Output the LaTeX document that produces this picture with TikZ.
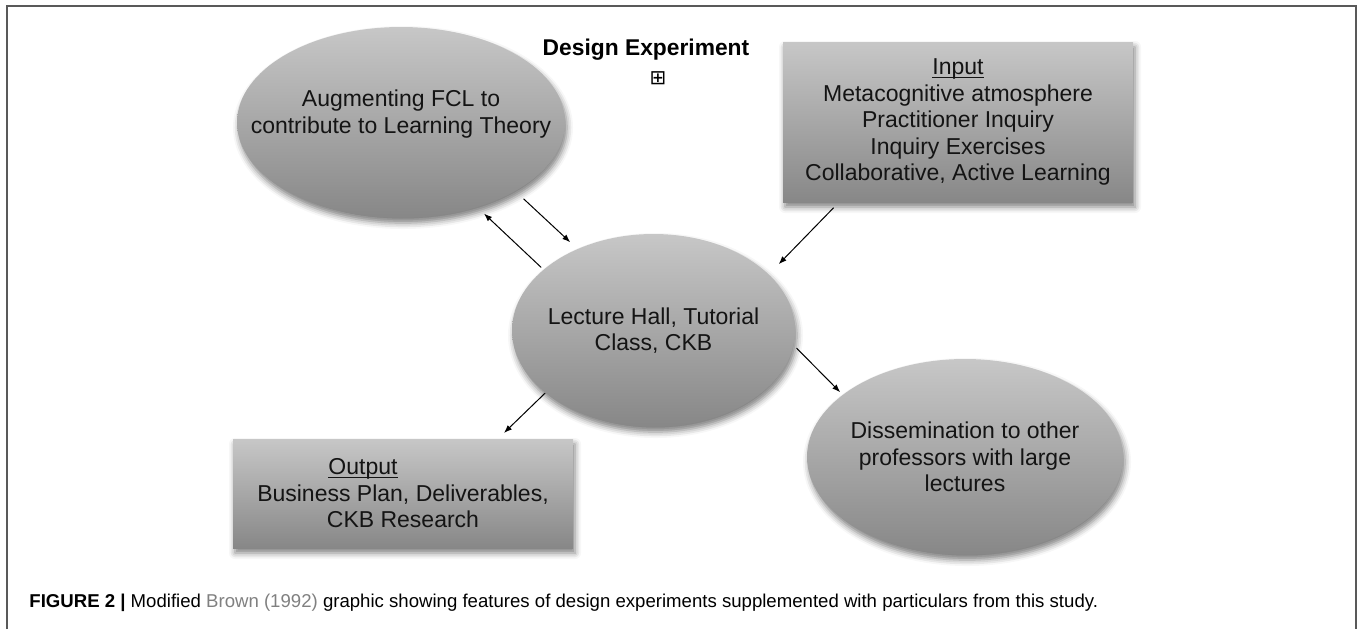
\documentclass[tikz,border=0pt]{standalone}
\usepackage{fontspec}
\setmainfont{Liberation Sans}
\newfontfamily\symbolfont{DejaVu Sans}
\usetikzlibrary{arrows.meta, shapes, positioning, shadows.blur}
\definecolor{shadetop}{gray}{0.78}
\definecolor{shadebottom}{gray}{0.53}
\definecolor{framegray}{gray}{0.35}
\definecolor{citegray}{gray}{0.5}
\newcommand{\heading}[1]{\underline{\raisebox{0pt}[\height][0pt]{#1}}}
\tikzset{
  softshadow/.style = {
    blur shadow = {shadow xshift=1pt, shadow yshift=-2.5pt,
                   shadow blur radius=3pt, shadow opacity=50}
  },
  bubble/.style = {
    ellipse, inner sep=0pt,
    top color=shadetop, bottom color=shadebottom,
    softshadow
  },
  bubbletext/.style = {align=center, text=black!92, font=\fontsize{11.5}{13.25}\selectfont},
  panel/.style = {
    rectangle, inner sep=0pt, align=center, text=black!92,
    top color=shadetop, bottom color=shadebottom,
    font=\fontsize{11.5}{13.25}\selectfont,
    softshadow
  },
  link/.style = {-{Latex[length=4pt, width=3pt]}, line width=0.5pt}
}

\begin{document}
\begin{tikzpicture}[x=0.5pt, y=-0.5pt]

  \useasboundingbox (0,0) rectangle (1360,629);

  % Frame, open at the bottom
  \draw[framegray, line width=1pt] (7,629) -- (7,6) -- (1356,6) -- (1356,629);

  % Title
  \node[anchor=base, font=\fontsize{11.4}{13}\selectfont\bfseries] (title) at (646,55) {Design Experiment};
  \node[font=\symbolfont\fontsize{10}{10}\selectfont, inner sep=0pt] (expand) at (658,78) {⊞};

  % Theory bubble
  \node[bubble, minimum width=164pt, minimum height=95.5pt,
        label={[bubbletext, yshift=4.25pt]center:Augmenting FCL to\\contribute to Learning Theory}]
        (augment) at (401,122.5) {};

  % Input
  \node[panel, minimum width=175pt, minimum height=80pt] (input) at (958,122)
        {\heading{Input}\\Metacognitive atmosphere\\Practitioner Inquiry\\Inquiry Exercises\\Collaborative, Active Learning};

  % Setting in the middle
  \node[bubble, minimum width=141.5pt, minimum height=96.5pt,
        label={[bubbletext]center:Lecture Hall, Tutorial\\Class, CKB}]
        (centre) at (653.5,330.5) {};

  % Output
  \node[panel, minimum width=170pt, minimum height=54.5pt] (output) at (403,493.5)
        {\heading{Output}\hspace*{40pt}\\Business Plan, Deliverables,\\CKB Research};

  % Dissemination
  \node[bubble, minimum width=158pt, minimum height=98pt,
        label={[bubbletext]center:Dissemination to other\\professors with large\\lectures}]
        (dissem) at (965,457) {};

  % Arrows
  \draw[link, shorten <=1.5pt, shorten >=4.5pt] (centre.151) -- (augment.-48);
  \draw[link, shorten <=5.5pt, shorten >=4.8pt] (augment.-31) -- (centre.133);
  \draw[link, shorten <=3.7pt, shorten >=7pt] (input.214) -- (centre.26);
  \draw[link, shorten <=2pt, shorten >=1.7pt] (centre.-6) -- (dissem.153);
  \draw[link, shorten >=4.1pt] (centre.210) -- (output.30);

  % Caption
  \node[anchor=base west, inner sep=0pt, font=\fontsize{9.3}{10}\selectfont] (caption) at (29,607)
        {\textbf{FIGURE 2 |} Modified \textcolor{citegray}{Brown (1992)} graphic showing features of design experiments supplemented with particulars from this study.};

\end{tikzpicture}
\end{document}
